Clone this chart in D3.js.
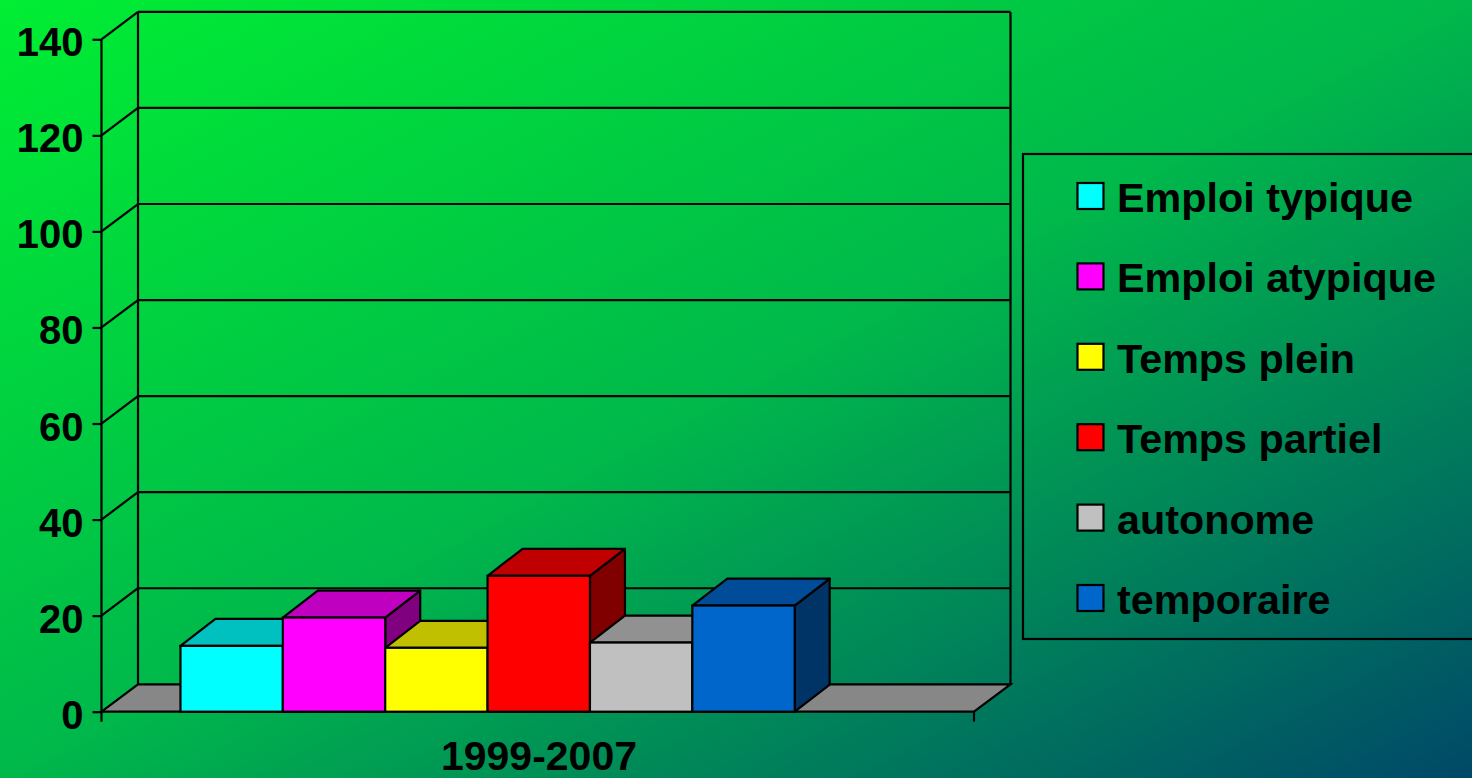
<!DOCTYPE html>
<html>
<head>
<meta charset="utf-8">
<script src="https://cdn.jsdelivr.net/npm/d3@7"></script>
<style>
html,body{margin:0;padding:0;overflow:hidden;background:#00b84b;}
svg{display:block;}
text{font-family:"Liberation Sans",Arial,sans-serif;font-weight:bold;fill:#000;}
</style>
</head>
<body>
<svg id="chart" width="1472" height="778"></svg>
<script>
const categories = ["1999-2007"];
const seriesNames = ["Emploi typique","Emploi atypique","Temps plein","Temps partiel","autonome","temporaire"];
const seriesValues = [13.7, 19.6, 13.3, 28.3, 14.4, 22.1];
const tickValues = [0,20,40,60,80,100,120,140];
const frontColors = ["#00FFFF","#FF00FF","#FFFF00","#FF0000","#C0C0C0","#0066CC"];
const topColors   = ["#00C0C0","#C000C0","#C0C000","#C00000","#919191","#004C99"];
const sideColors  = ["#008080","#800080","#808000","#800000","#606060","#003366"];

const W = 1472, H = 778;
const svg = d3.select("#chart");

// background gradient
const defs = svg.append("defs");
const grad = defs.append("linearGradient").attr("id","bg")
  .attr("x1",0).attr("y1",0).attr("x2",1).attr("y2",1);
[[0,"#00EE33"],[0.5,"#00B84B"],[0.78,"#007A5C"],[1,"#004868"]].forEach(([o,c])=>
  grad.append("stop").attr("offset",o).attr("stop-color",c));
svg.append("rect").attr("width",W).attr("height",H).attr("fill","url(#bg)");

// geometry
const frontLeft = 101.5, frontRight = 974, baseY = 711.7, topY = 39.3;
const wallDx = 36.5, wallDy = -27.4;
const barDx = 35, barDy = -27;

const y = d3.scaleLinear().domain([0,140]).range([baseY, topY]);
const x0 = d3.scaleBand().domain(categories).range([frontLeft, frontRight]).padding(0);
const innerStart = 0.0905, innerEnd = 0.7945;

const g = svg.append("g");
const stroke = "#000", sw = 2.2;

// floor
const floorPts = [[frontLeft,baseY],[frontRight,baseY],[frontRight+wallDx,baseY+wallDy],[frontLeft+wallDx,baseY+wallDy]];
g.append("polygon").attr("points",floorPts.map(p=>p.join(",")).join(" "))
  .attr("fill","#878787").attr("stroke",stroke).attr("stroke-width",sw).attr("stroke-linejoin","miter");

// back wall gridlines + left wall diagonals
tickValues.forEach(v=>{
  const yy = y(v);
  if (v>0) {
    g.append("line").attr("x1",frontLeft+wallDx).attr("x2",frontRight+wallDx)
      .attr("y1",yy+wallDy).attr("y2",yy+wallDy).attr("stroke",stroke).attr("stroke-width",sw);
    g.append("line").attr("x1",frontLeft).attr("y1",yy).attr("x2",frontLeft+wallDx).attr("y2",yy+wallDy)
      .attr("stroke",stroke).attr("stroke-width",sw);
  }
});
// back wall verticals
g.append("line").attr("x1",frontLeft+wallDx).attr("x2",frontLeft+wallDx)
  .attr("y1",y(140)+wallDy).attr("y2",baseY+wallDy).attr("stroke",stroke).attr("stroke-width",sw);
g.append("line").attr("x1",frontRight+wallDx).attr("x2",frontRight+wallDx)
  .attr("y1",y(140)+wallDy).attr("y2",baseY+wallDy).attr("stroke",stroke).attr("stroke-width",sw);

// value axis
const yAxis = d3.axisLeft(y).tickValues(tickValues).tickSize(9).tickPadding(9).tickFormat(d3.format("d"));
const ax = g.append("g").attr("transform",`translate(${frontLeft},0)`).call(yAxis);
ax.select(".domain").remove();
ax.selectAll(".tick line").attr("stroke",stroke).attr("stroke-width",sw);
ax.selectAll(".tick text").attr("font-size",40).attr("dy",null).attr("y",16.5)
  .attr("font-family","Liberation Sans, Arial, sans-serif").attr("font-weight","bold").attr("fill","#000");
g.append("line").attr("x1",frontLeft).attr("x2",frontLeft).attr("y1",topY).attr("y2",baseY+10)
  .attr("stroke",stroke).attr("stroke-width",sw);
g.append("line").attr("x1",frontRight).attr("x2",frontRight).attr("y1",baseY).attr("y2",baseY+10)
  .attr("stroke",stroke).attr("stroke-width",sw);

// bars
categories.forEach(cat=>{
  const bx = x0(cat), bw = x0.bandwidth();
  const x1 = d3.scaleBand().domain(seriesNames)
    .range([bx + bw*innerStart, bx + bw*innerEnd]).padding(0);
  seriesNames.forEach((name,i)=>{
    const L = x1(name), R = L + x1.bandwidth(), T = y(seriesValues[i]), B = y(0);
    const bar = g.append("g");
    bar.append("polygon").attr("points",[[R,B],[R+barDx,B+barDy],[R+barDx,T+barDy],[R,T]].map(p=>p.join(",")).join(" "))
      .attr("fill",sideColors[i]).attr("stroke",stroke).attr("stroke-width",sw).attr("stroke-linejoin","round");
    bar.append("polygon").attr("points",[[L,T],[L+barDx,T+barDy],[R+barDx,T+barDy],[R,T]].map(p=>p.join(",")).join(" "))
      .attr("fill",topColors[i]).attr("stroke",stroke).attr("stroke-width",sw).attr("stroke-linejoin","round");
    bar.append("rect").attr("x",L).attr("y",T).attr("width",R-L).attr("height",B-T)
      .attr("fill",frontColors[i]).attr("stroke",stroke).attr("stroke-width",sw);
  });
  g.append("text").attr("x",bx+bw*0.5014).attr("y",770).attr("text-anchor","middle")
    .attr("font-size",41).text(cat);
});

// legend
const lg = svg.append("g");
lg.append("rect").attr("x",1023).attr("y",154).attr("width",480).attr("height",485)
  .attr("fill","none").attr("stroke",stroke).attr("stroke-width",sw);
const ly = d3.scalePoint().domain(seriesNames).range([196.5, 598.5]);
seriesNames.forEach((name,i)=>{
  const cy = ly(name);
  lg.append("rect").attr("x",1077.5).attr("y",cy-13.5).attr("width",26).attr("height",26)
    .attr("fill",frontColors[i]).attr("stroke",stroke).attr("stroke-width",sw);
  lg.append("text").attr("x",1117).attr("y",cy+15.5).attr("font-size",41.3).text(name);
});
</script>
</body>
</html>
